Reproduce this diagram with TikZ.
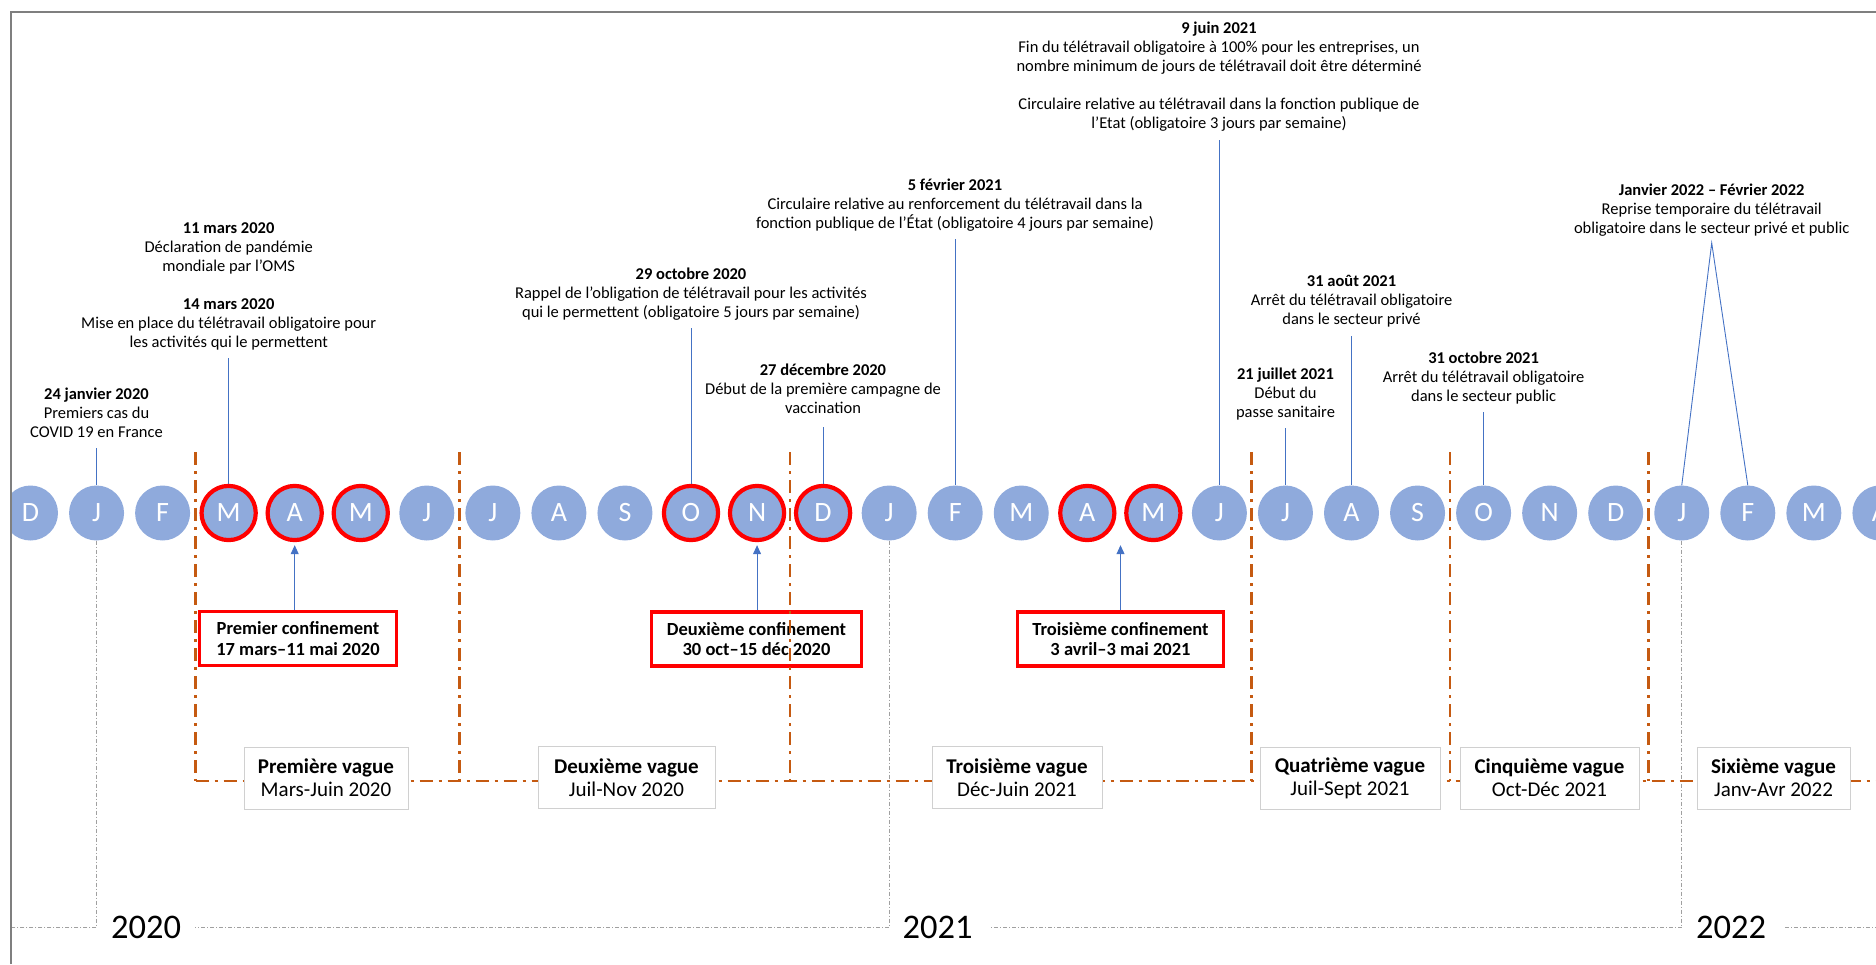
\documentclass[tikz,border=0pt]{standalone}
\usepackage{fontspec}
\setmainfont{Carlito}
\usetikzlibrary{arrows.meta}
\definecolor{circ}{HTML}{8FAADC}
\definecolor{ringred}{HTML}{FF0000}
\definecolor{lineblue}{HTML}{4472C4}
\definecolor{wavec}{HTML}{C55A11}
\definecolor{framegray}{HTML}{7F7F7F}
\definecolor{ygray}{HTML}{A0A0A0}
\definecolor{boxgray}{HTML}{D0D0D0}
\begin{document}
\begin{tikzpicture}[x=1pt,y=-1pt,
  mo/.style={circle,fill=circ,minimum size=55pt,inner sep=0pt,text=white,font=\fontsize{28}{28}\selectfont},
  rmo/.style={mo,draw=ringred,line width=4.2pt,minimum size=54.2pt},
  ann/.style={align=center,inner sep=0pt,outer sep=0pt,font=\fontsize{16.5}{19}\selectfont,text=black,anchor=south},
  annline/.style={draw=lineblue,line width=0.9pt},
  conf/.style={draw=ringred,line width=3.3pt,fill=white,align=center,inner sep=0pt,minimum height=54pt,font=\bfseries\fontsize{18.5}{20.5}\selectfont},
  confarrow/.style={draw=lineblue,line width=0.9pt,-{Triangle[length=9pt,width=8pt]},shorten >=3pt},
  wavesep/.style={draw=wavec,line width=2.8pt,dash pattern=on 13pt off 6pt on 3pt off 6pt},
  wavebox/.style={draw=boxgray,line width=1pt,fill=white,align=center,inner sep=0pt,minimum height=62pt,font=\fontsize{21}{23}\selectfont},
  yline/.style={draw=ygray,line width=1pt,dash pattern=on 4pt off 2pt on 1pt off 2pt},
  yearlbl/.style={inner sep=0pt,font=\fontsize{34.5}{34.5}\selectfont}
]
\useasboundingbox (0,0) rectangle (1876,964);
\begin{scope}
\clip (11,12) rectangle (1876,964);

% months
\foreach \l/\s [count=\i from 0] in {D/mo,J/mo,F/mo,M/rmo,A/rmo,M/rmo,J/mo,J/mo,A/mo,S/mo,O/rmo,N/rmo,D/rmo,J/mo,F/mo,M/mo,A/rmo,M/rmo,J/mo,J/mo,A/mo,S/mo,O/mo,N/mo,D/mo,J/mo,F/mo,M/mo,A/mo}
  \node[\s] (m\i) at ({30.5+66.05*\i},513) {\l};

% year lines and labels
\node[yearlbl] (y20) at (146,927.5) {2020};
\node[yearlbl] (y21) at (937.5,927.5) {2021};
\node[yearlbl] (y22) at (1731,927.5) {2022};
\coordinate (yl0) at (11,927.5);
\coordinate (yr3) at (1876,927.5);
\draw[yline] (m1.south) -- (m1.south |- y20) -- (yl0);
\draw[yline] (m13.south) -- (m13.south |- y21) -- ([xshift=14pt]y20.east);
\draw[yline] (m25.south) -- (m25.south |- y22) -- ([xshift=18pt]y21.east);
\draw[yline] ([xshift=19pt]y22.east) -- (yr3);

% confinement boxes
\node[conf,minimum width=197pt] (c1) at (298,638.5) {Premier confinement\\17 mars–11 mai 2020};
\node[conf,minimum width=210pt] (c2) at (756.5,639) {Deuxième confinement\\30 oct–15 déc 2020};
\node[conf,minimum width=206pt] (c3) at (1120.5,639) {Troisième confinement\\3 avril–3 mai 2021};

% wave separators
\foreach \x in {195.5,459.8,790,1251.5,1450,1648.5}
  \draw[wavesep] (\x,452) -- (\x,781);
\draw[wavesep] (195.5,781) -- (1876,781);

% wave boxes
\node[wavebox,minimum width=164pt] (w1) at (326,778) {\textbf{Première vague}\\Mars-Juin 2020};
\node[wavebox,minimum width=177pt] (w2) at (626.5,777.5) {\textbf{Deuxième vague}\\Juil-Nov 2020};
\node[wavebox,minimum width=170pt] (w3) at (1017,777.5) {\textbf{Troisième vague}\\Déc-Juin 2021};
\node[wavebox,minimum width=180pt] (w4) at (1350,778) {\textbf{Quatrième vague}\\Juil-Sept 2021};
\node[wavebox,minimum width=179pt] (w5) at (1549.5,778) {\textbf{Cinquième vague}\\Oct-Déc 2021};
\node[wavebox,minimum width=153pt] (w6) at (1773.5,778) {\textbf{Sixième vague}\\Janv-Avr 2022};

% arrows
\draw[confarrow] (m4.south |- c1.north) -- (m4.south);
\draw[confarrow] (m11.south |- c2.north) -- (m11.south);
\draw[confarrow] (c3.north) -- (c3.north |- m16.south);

% annotations
\node[ann] (a1) at (96.5,438) {\textbf{24 janvier 2020}\\Premiers cas du\\COVID 19 en France};
\node[ann] (a2) at (228.7,350) {\textbf{11 mars 2020}\\Déclaration de pandémie\\mondiale par l'OMS\\[19pt]\textbf{14 mars 2020}\\Mise en place du télétravail obligatoire pour\\les activités qui le permettent};
\node[ann] (a3) at (691,320) {\textbf{29 octobre 2020}\\Rappel de l'obligation de télétravail pour les activités\\qui le permettent (obligatoire 5 jours par semaine)};
\node[ann] (a4) at (823,414) {\textbf{27 décembre 2020}\\Début de la première campagne de\\vaccination};
\node[ann] (a5) at (955,231) {\textbf{5 février 2021}\\Circulaire relative au renforcement du télétravail dans la\\fonction publique de l'État (obligatoire 4 jours par semaine)};
\node[ann] (a6) at (1219,131) {\textbf{9 juin 2021}\\Fin du télétravail obligatoire à 100\% pour les entreprises, un\\nombre minimum de jours de télétravail doit être déterminé\\[19pt]Circulaire relative au télétravail dans la fonction publique de\\l’Etat (obligatoire 3 jours par semaine)};
\node[ann] (a7) at (1285.5,420) {\textbf{21 juillet 2021}\\Début du\\passe sanitaire};
\node[ann] (a8) at (1351.5,327) {\textbf{31 août 2021}\\Arrêt du télétravail obligatoire\\dans le secteur privé};
\node[ann] (a9) at (1483.6,404) {\textbf{31 octobre 2021}\\Arrêt du télétravail obligatoire\\dans le secteur public};
\node[ann] (a10) at (1711.7,236) {\textbf{Janvier 2022 – Février 2022}\\Reprise temporaire du télétravail\\obligatoire dans le secteur privé et public};

\draw[annline,shorten <=10pt] (m1.north |- a1.south) -- (m1.north);
\draw[annline,shorten <=8pt] (m3.north |- a2.south) -- (m3.north);
\draw[annline,shorten <=8pt] (m10.north |- a3.south) -- (m10.north);
\draw[annline,shorten <=13pt] (m12.north |- a4.south) -- (m12.north);
\draw[annline,shorten <=8pt] (m14.north |- a5.south) -- (m14.north);
\draw[annline,shorten <=9pt] (m18.north |- a6.south) -- (m18.north);
\draw[annline,shorten <=8pt] (m19.north |- a7.south) -- (m19.north);
\draw[annline,shorten <=9pt] (m20.north |- a8.south) -- (m20.north);
\draw[annline,shorten <=8pt] (m22.north |- a9.south) -- (m22.north);
\coordinate (apex) at ([yshift=-7pt]a10.south);
\draw[annline] (m25.north) -- (apex) -- (m26.north);
\end{scope}

% frame
\draw[framegray,line width=2pt] (11,964) -- (11,12) -- (1876,12);
\end{tikzpicture}
\end{document}
